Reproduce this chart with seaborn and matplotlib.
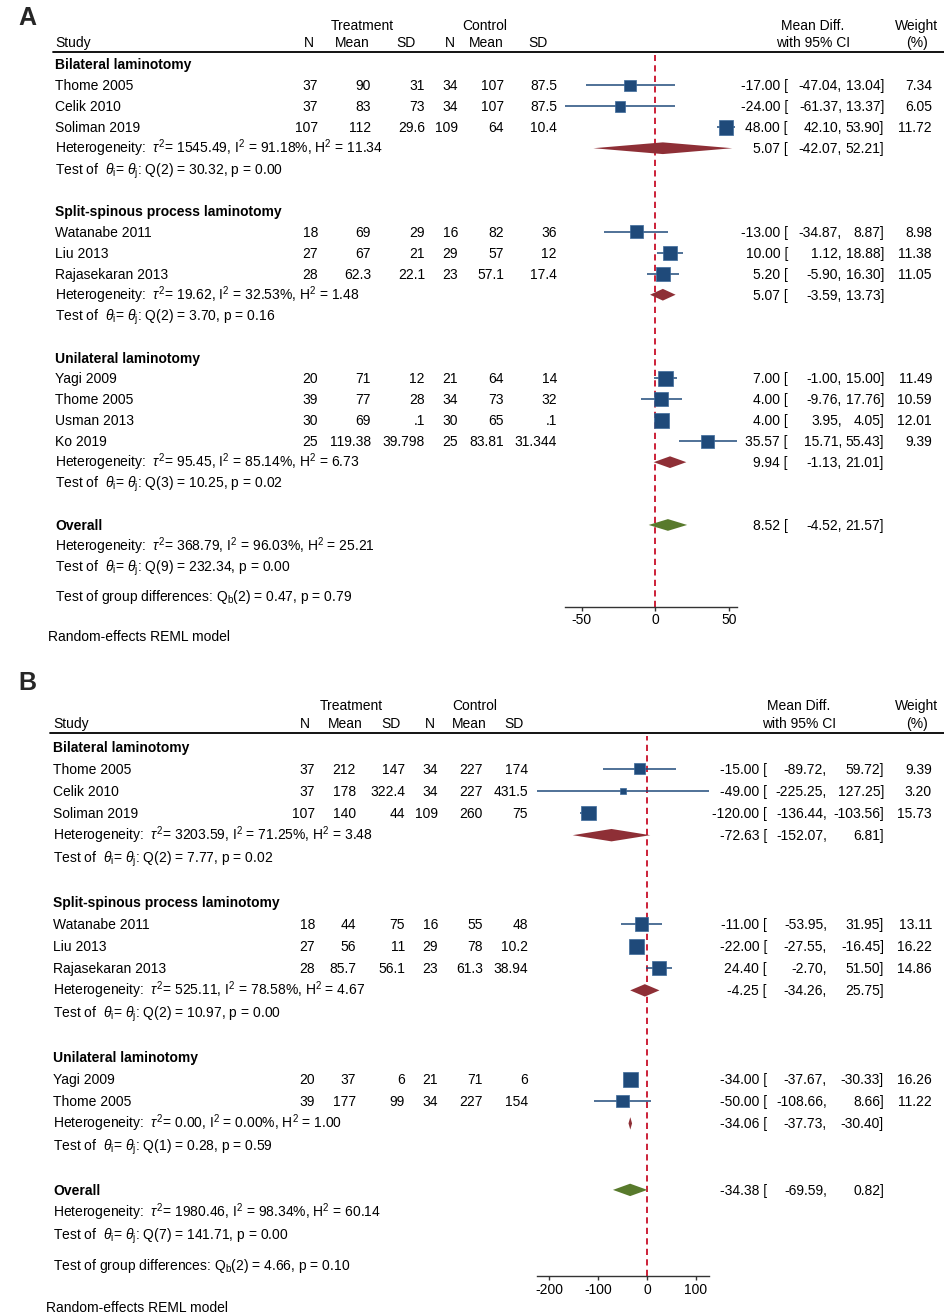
"""Forest plots of mean difference by laminotomy type (panels A and B)."""
import pandas as pd
import seaborn as sns
import matplotlib.pyplot as plt
from matplotlib.transforms import blended_transform_factory

W, H = 945, 1313

# ---------------- panel A ----------------
A_group = (["Bilateral laminotomy"] * 3 + ["Split-spinous process laminotomy"] * 3
           + ["Unilateral laminotomy"] * 4)
A_study = ["Thome 2005", "Celik 2010", "Soliman 2019", "Watanabe 2011", "Liu 2013",
           "Rajasekaran 2013", "Yagi 2009", "Thome 2005", "Usman 2013", "Ko 2019"]
A_n1 = ["37", "37", "107", "18", "27", "28", "20", "39", "30", "25"]
A_mean1 = ["90", "83", "112", "69", "67", "62.3", "71", "77", "69", "119.38"]
A_sd1 = ["31", "73", "29.6", "29", "21", "22.1", "12", "28", ".1", "39.798"]
A_n2 = ["34", "34", "109", "16", "29", "23", "21", "34", "30", "25"]
A_mean2 = ["107", "107", "64", "82", "57", "57.1", "64", "73", "65", "83.81"]
A_sd2 = ["87.5", "87.5", "10.4", "36", "12", "17.4", "14", "32", ".1", "31.344"]
A_md = [-17.00, -24.00, 48.00, -13.00, 10.00, 5.20, 7.00, 4.00, 4.00, 35.57]
A_lo = [-47.04, -61.37, 42.10, -34.87, 1.12, -5.90, -1.00, -9.76, 3.95, 15.71]
A_hi = [13.04, 13.37, 53.90, 8.87, 18.88, 16.30, 15.00, 17.76, 4.05, 55.43]
A_weight = [7.34, 6.05, 11.72, 8.98, 11.38, 11.05, 11.49, 10.59, 12.01, 9.39]
A_sub_md = [5.07, 5.07, 9.94]
A_sub_lo = [-42.07, -3.59, -1.13]
A_sub_hi = [52.21, 13.73, 21.01]
A_sub_tau2 = ["1545.49", "19.62", "95.45"]
A_sub_i2 = ["91.18", "32.53", "85.14"]
A_sub_h2 = ["11.34", "1.48", "6.73"]
A_sub_df = [2, 2, 3]
A_sub_q = ["30.32", "3.70", "10.25"]
A_sub_p = ["0.00", "0.16", "0.02"]
A_overall = [8.52, -4.52, 21.57]
A_overall_het = ["368.79", "96.03", "25.21"]
A_overall_q = [9, "232.34", "0.00"]
A_qb = [2, "0.47", "0.79"]
A_ticks = [-50, 0, 50]

# ---------------- panel B ----------------
B_group = (["Bilateral laminotomy"] * 3 + ["Split-spinous process laminotomy"] * 3
           + ["Unilateral laminotomy"] * 2)
B_study = ["Thome 2005", "Celik 2010", "Soliman 2019", "Watanabe 2011", "Liu 2013",
           "Rajasekaran 2013", "Yagi 2009", "Thome 2005"]
B_n1 = ["37", "37", "107", "18", "27", "28", "20", "39"]
B_mean1 = ["212", "178", "140", "44", "56", "85.7", "37", "177"]
B_sd1 = ["147", "322.4", "44", "75", "11", "56.1", "6", "99"]
B_n2 = ["34", "34", "109", "16", "29", "23", "21", "34"]
B_mean2 = ["227", "227", "260", "55", "78", "61.3", "71", "227"]
B_sd2 = ["174", "431.5", "75", "48", "10.2", "38.94", "6", "154"]
B_md = [-15.00, -49.00, -120.00, -11.00, -22.00, 24.40, -34.00, -50.00]
B_lo = [-89.72, -225.25, -136.44, -53.95, -27.55, -2.70, -37.67, -108.66]
B_hi = [59.72, 127.25, -103.56, 31.95, -16.45, 51.50, -30.33, 8.66]
B_weight = [9.39, 3.20, 15.73, 13.11, 16.22, 14.86, 16.26, 11.22]
B_sub_md = [-72.63, -4.25, -34.06]
B_sub_lo = [-152.07, -34.26, -37.73]
B_sub_hi = [6.81, 25.75, -30.40]
B_sub_tau2 = ["3203.59", "525.11", "0.00"]
B_sub_i2 = ["71.25", "78.58", "0.00"]
B_sub_h2 = ["3.48", "4.67", "1.00"]
B_sub_df = [2, 2, 1]
B_sub_q = ["7.77", "10.97", "0.28"]
B_sub_p = ["0.02", "0.00", "0.59"]
B_overall = [-34.38, -69.59, 0.82]
B_overall_het = ["1980.46", "98.34", "60.14"]
B_overall_q = [7, "141.71", "0.00"]
B_qb = [2, "4.66", "0.10"]
B_ticks = [-200, -100, 0, 100]

NAVY = "#1f4a7a"
MAROON = "#8e2f36"
OLIVE = "#587a2c"
RED = "#cc2038"

sns.set_theme(style="white")
plt.rcParams["font.family"] = ["Liberation Sans", "DejaVu Sans"]
plt.rcParams["mathtext.fontset"] = "custom"
plt.rcParams["mathtext.rm"] = "Liberation Sans"
plt.rcParams["mathtext.it"] = "Liberation Sans:italic"
plt.rcParams["mathtext.bf"] = "Liberation Sans:bold"

fig = plt.figure(figsize=(W / 100, H / 100), dpi=100)
fig.patch.set_facecolor("white")


def het_text(tau2, i2, h2):
    return (r"Heterogeneity:  $\tau^2$= " + tau2 + r", I$^2$ = " + i2
            + r"%, H$^2$ = " + h2)


def test_text(df, q, p):
    return (r"Test of  $\theta_{\rm i}$= $\theta_{\rm j}$: Q(" + str(df) + ") = "
            + q + ", p = " + p)


def draw_panel(df, sub, overall, overall_het, overall_q, qb, ticks, lay):
    y0, step = lay["y0"], lay["step"]
    groups = list(dict.fromkeys(df["group"]))
    rows, group_rows, r = [], [], 0
    for g in groups:
        n = int((df["group"] == g).sum())
        group_rows.append(r)
        rows += list(range(r + 1, r + 1 + n))
        r += n + 4
    df = df.assign(row=rows)
    sub = sub.assign(row=[g + (df["group"] == name).sum() + 1
                          for g, name in zip(group_rows, groups)])
    ov = r
    top, bottom = -0.6, ov + 3.9
    px_top, px_bot = y0 + step * top, y0 + step * bottom
    x0, x1 = lay["ax_x"]
    ax = fig.add_axes([x0 / W, 1 - px_bot / H, (x1 - x0) / W, (px_bot - px_top) / H])
    ax.patch.set_alpha(0)
    tr = blended_transform_factory(fig.transFigure, ax.transData)
    base = 5.0 / step

    def put(xpx, row, s, ha="left", **kw):
        ax.text(xpx / W, row + base, s, ha=ha, va="baseline", fontsize=10,
                color="black", transform=tr, **kw)

    # header
    put(lay["treat_x"], -1.88, "Treatment", ha="center")
    put(lay["ctrl_x"], -1.88, "Control", ha="center")
    put(lay["md_head_x"], -1.88, "Mean Diff.", ha="center")
    put(917, -1.88, "Weight", ha="center")
    put(lay["study_x"], -1.08, "Study")
    for hx, hs in zip(lay["head_x"], ["N", "Mean", "SD", "N", "Mean", "SD"]):
        put(hx, -1.08, hs, ha="center")
    put(lay["md_head_x"], -1.08, "with 95% CI", ha="center")
    put(917, -1.08, "(%)", ha="center")
    ax.plot([lay["line_x0"] / W, 1.0], [top, top], transform=tr, color="black",
            lw=1.3, clip_on=False)
    fig.text(27 / W, 1 - lay["label_y"] / H, lay["label"], fontsize=18,
             fontweight="bold", ha="center", va="center")

    # study rows
    cols = ["n1", "mean1", "sd1", "n2", "mean2", "sd2"]
    for _, s in df.iterrows():
        put(lay["study_x"], s["row"], s["study"])
        for cx, c in zip(lay["cols"], cols):
            put(cx, s["row"], s[c], ha="right")
        put(lay["md_x"], s["row"], f"{s['md']:.2f} [", ha="right")
        put(lay["lo_x"], s["row"], f"{s['lo']:.2f},", ha="right")
        put(lay["hi_x"], s["row"], f"{s['hi']:.2f}]", ha="right")
        put(932, s["row"], f"{s['weight']:.2f}", ha="right")

    for g, name in zip(group_rows, groups):
        put(lay["study_x"], g, name, fontweight="bold")
    for _, s in sub.iterrows():
        put(lay["study_x"], s["row"], het_text(s["tau2"], s["i2"], s["h2"]))
        put(lay["study_x"], s["row"] + 1, test_text(s["df"], s["q"], s["p"]))
        put(lay["md_x"], s["row"], f"{s['md']:.2f} [", ha="right")
        put(lay["lo_x"], s["row"], f"{s['lo']:.2f},", ha="right")
        put(lay["hi_x"], s["row"], f"{s['hi']:.2f}]", ha="right")

    # overall
    put(lay["study_x"], ov, "Overall", fontweight="bold")
    put(lay["study_x"], ov + 1, het_text(*overall_het))
    put(lay["study_x"], ov + 2, test_text(*overall_q))
    put(lay["study_x"], ov + 3.4,
        r"Test of group differences: Q$_{\rm b}$(" + str(qb[0]) + ") = " + qb[1]
        + ", p = " + qb[2])
    put(lay["md_x"], ov, f"{overall[0]:.2f} [", ha="right")
    put(lay["lo_x"], ov, f"{overall[1]:.2f},", ha="right")
    put(lay["hi_x"], ov, f"{overall[2]:.2f}]", ha="right")
    put(lay["note_x"], ov + 5.3, "Random-effects REML model")

    # marks
    ax.axvline(0, ymin=0, ymax=0.994, color=RED, lw=1.4, dashes=(3.2, 2.2), zorder=1)
    ax.hlines(df["row"], df["lo"], df["hi"], color=NAVY, lw=1.1, zorder=2)
    wmax = df["weight"].max()
    sns.scatterplot(data=df, x="md", y="row", size="weight", sizes=(0, 116),
                    size_norm=(0, wmax), marker="s", color=NAVY, edgecolor="#3d6a9a",
                    linewidth=0.5, legend=False, ax=ax, zorder=3)
    h = 0.28
    for _, s in sub.iterrows():
        ax.fill([s["lo"], s["md"], s["hi"], s["md"]],
                [s["row"], s["row"] - h, s["row"], s["row"] + h],
                color=MAROON, lw=0, zorder=3)
    ax.fill([overall[1], overall[0], overall[2], overall[0]],
            [ov, ov - h, ov, ov + h], color=OLIVE, lw=0, zorder=3)

    ax.set_xlim(df["lo"].min(), df["hi"].max())
    ax.set_ylim(bottom, top)
    ax.set_xticks(ticks)
    ax.set_xticklabels([str(t) for t in ticks])
    ax.set_yticks([])
    ax.set_xlabel("")
    ax.set_ylabel("")
    for sp in ["left", "top", "right"]:
        ax.spines[sp].set_visible(False)
    ax.spines["bottom"].set_color("#333333")
    ax.spines["bottom"].set_linewidth(1.0)
    ax.tick_params(axis="x", bottom=True, length=3, width=1.0, color="#333333",
                   labelsize=10, labelcolor="black", pad=1.5)


def make_tables(study, group, n1, m1, sd1, n2, m2, sd2, md, lo, hi, wt,
                s_md, s_lo, s_hi, tau2, i2, h2, sdf, q, p):
    df = pd.DataFrame({"group": group, "study": study, "n1": n1, "mean1": m1,
                       "sd1": sd1, "n2": n2, "mean2": m2, "sd2": sd2,
                       "md": md, "lo": lo, "hi": hi, "weight": wt})
    sub = pd.DataFrame({"md": s_md, "lo": s_lo, "hi": s_hi, "tau2": tau2,
                        "i2": i2, "h2": h2, "df": sdf, "q": q, "p": p})
    return df, sub


LAY_A = dict(label="A", label_y=18, y0=64.5, step=20.93, ax_x=(565, 737),
             study_x=55, note_x=48, line_x0=53,
             cols=[318, 371, 425, 458, 504, 557],
             head_x=[309, 352, 406, 450, 486, 538], treat_x=362, ctrl_x=485,
             md_x=788, lo_x=842, hi_x=884, md_head_x=813)
LAY_B = dict(label="B", label_y=683, y0=746.5, step=22.17, ax_x=(537, 709),
             study_x=53, note_x=46, line_x0=50,
             cols=[315, 356, 405, 438, 483, 528],
             head_x=[305, 345, 391, 430, 469, 514], treat_x=351, ctrl_x=475,
             md_x=767, lo_x=827, hi_x=884, md_head_x=799)

a_df, a_sub = make_tables(A_study, A_group, A_n1, A_mean1, A_sd1, A_n2, A_mean2,
                          A_sd2, A_md, A_lo, A_hi, A_weight, A_sub_md, A_sub_lo,
                          A_sub_hi, A_sub_tau2, A_sub_i2, A_sub_h2, A_sub_df,
                          A_sub_q, A_sub_p)
b_df, b_sub = make_tables(B_study, B_group, B_n1, B_mean1, B_sd1, B_n2, B_mean2,
                          B_sd2, B_md, B_lo, B_hi, B_weight, B_sub_md, B_sub_lo,
                          B_sub_hi, B_sub_tau2, B_sub_i2, B_sub_h2, B_sub_df,
                          B_sub_q, B_sub_p)

draw_panel(a_df, a_sub, A_overall, A_overall_het, A_overall_q, A_qb, A_ticks, LAY_A)
draw_panel(b_df, b_sub, B_overall, B_overall_het, B_overall_q, B_qb, B_ticks, LAY_B)

fig.savefig("out.png", dpi=100)
